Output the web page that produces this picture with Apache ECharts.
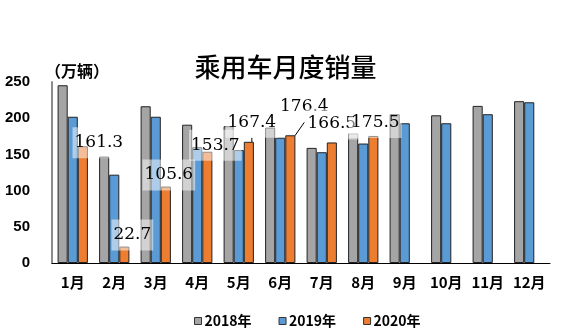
<!DOCTYPE html>
<html>
<head>
<meta charset="utf-8">
<script src="https://cdn.jsdelivr.net/npm/echarts@6/dist/echarts.min.js"></script>
<style>
  html, body { margin: 0; padding: 0; background: #fff; }
  #chart { width: 571px; height: 336px; }
</style>
</head>
<body>
<div id="chart"></div>
<script>
// Monthly passenger-car sales (10k units)
var months = ['1月', '2月', '3月', '4月', '5月', '6月', '7月', '8月', '9月', '10月', '11月', '12月'];
var seriesNames = ['2018年', '2019年', '2020年'];
var sales2018 = [245.5, 147, 216.5, 191, 189, 187, 159, 179, 205.5, 204, 217, 223.5];
var sales2019 = [202, 122, 202, 160, 156, 173, 153, 165, 193, 193, 205.5, 222];
var sales2020 = [161.3, 22.7, 105.6, 153.7, 167.4, 176.4, 166.5, 175.5];
var yTicks = [0, 50, 100, 150, 200, 250];

var colors = ['#a5a5a5', '#5b9bd5', '#ed7d31'];
var cjk = '"Noto Sans CJK SC", "Liberation Sans", sans-serif';

// Label nudges for the 2020 value labels [dx, dy]
var labelShift = [[16, 12], [8, 4], [3, 4], [8, 9], [3, -4], [14, -13], [0, -3], [2, 2]];
var withLeader = { 4: true, 5: true };

var chart = echarts.init(document.getElementById('chart'), null, { renderer: 'canvas' });

function barSeries(name, data, color) {
  return {
    name: name,
    type: 'bar',
    data: data,
    barGap: '0%',
    barCategoryGap: '27%',
    itemStyle: { color: color, borderColor: '#222', borderWidth: 1 },
    animation: false
  };
}

var s2020 = barSeries(seriesNames[2], sales2020.map(function (v, i) {
  var item = { value: v };
  if (withLeader[i]) {
    item.labelLine = { show: true, lineStyle: { color: '#000', width: 1 } };
  }
  return item;
}), colors[2]);
s2020.label = {
  show: true,
  position: 'top',
  distance: 0,
  fontFamily: '"DejaVu Serif", "Liberation Serif", serif',
  fontSize: 17,
  color: '#000',
  backgroundColor: 'rgba(255,255,255,0.5)',
  padding: [7, 2],
  formatter: function (p) { return p.value.toFixed(1); }
};
s2020.labelLayout = function (p) {
  var s = labelShift[p.dataIndex] || [0, 0];
  return { dx: s[0], dy: s[1] };
};

chart.setOption({
  backgroundColor: '#fff',
  title: {
    text: '乘用车月度销量',
    left: 'center',
    top: 49,
    textStyle: { fontFamily: cjk, fontSize: 26, fontWeight: 500, color: '#000' }
  },
  graphic: [{
    type: 'text',
    left: 45,
    top: 63,
    style: { text: '（万辆）', font: 'bold 16px ' + cjk, fill: '#000' }
  }],
  legend: {
    data: seriesNames,
    left: 189,
    top: 309,
    itemWidth: 7,
    itemHeight: 7,
    itemGap: 27,
    icon: 'rect',
    itemStyle: { borderColor: '#333', borderWidth: 1 },
    textStyle: { fontFamily: cjk, fontSize: 14, fontWeight: 'bold', color: '#000', padding: [0, 0, 0, -2] }
  },
  grid: { left: 52, right: 21, top: 82, bottom: 73 },
  xAxis: {
    type: 'category',
    data: months,
    axisLine: { show: true, lineStyle: { color: '#000', width: 1 } },
    axisTick: { show: false },
    axisLabel: { interval: 0, margin: 12, fontFamily: cjk, fontSize: 15, fontWeight: 'bold', color: '#000' }
  },
  yAxis: {
    type: 'value',
    min: yTicks[0],
    max: yTicks[yTicks.length - 1],
    interval: yTicks[1] - yTicks[0],
    axisLine: { show: true, lineStyle: { color: '#8c8c8c', width: 2 } },
    axisTick: { show: false },
    splitLine: { show: false },
    axisLabel: { margin: 22, fontFamily: '"Liberation Sans", Arial, sans-serif', fontSize: 15, fontWeight: 'bold', color: '#000' }
  },
  series: [
    barSeries(seriesNames[0], sales2018, colors[0]),
    barSeries(seriesNames[1], sales2019, colors[1]),
    s2020
  ]
});
</script>
</body>
</html>
